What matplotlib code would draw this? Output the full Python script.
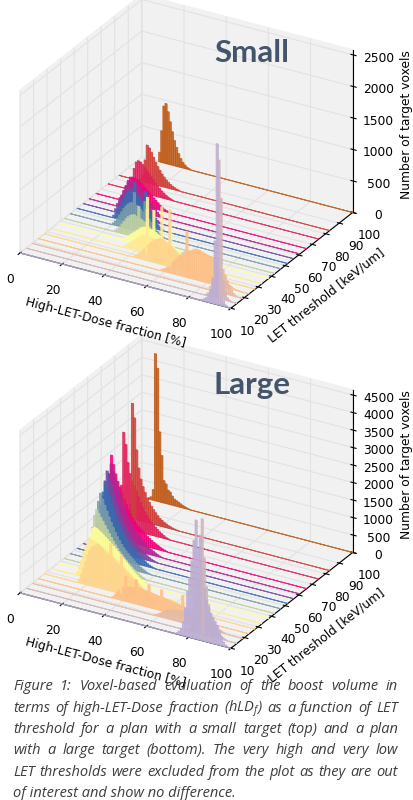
#! /usr/bin/env python3
# 3D-гистограммы hLDf для двух планов (малая и большая мишень) + подпись

import numpy as np
import matplotlib
matplotlib.use('Agg')
import matplotlib.pyplot as plt
from matplotlib.colors import LinearSegmentedColormap


# пороги LET (ось y), спереди назад
let_thr = [10, 14.5, 19, 23.5, 28, 33, 38, 42.5, 47, 52, 56.5, 61, 66, 75, 83, 100]

# small target: первый бин и значения гистограммы (бин = 1 %)
small_start = [86, 85, 84, 58, 42, 34, 30, 24, 20, 17, 15, 13, 11, 10, 10, 8]
small_counts = [
    [20, 40, 70, 120, 200, 400, 1000, 2550, 600, 200, 80, 30],
    [20, 50, 90, 150, 250, 500, 2200, 1600, 300, 120, 50, 20],
    [60, 100, 150, 200, 250, 300, 380, 300, 220, 150, 90, 40, 15],
    [20, 40, 60, 90, 130, 170, 210, 250, 290, 330, 370, 400, 730, 420, 440,
     460, 480, 490, 480, 470, 460, 450, 440, 430, 420, 410, 380, 200, 150, 120,
     100, 80, 60, 40, 25, 15, 10, 5],
    [20, 40, 70, 100, 140, 180, 220, 260, 300, 330, 360, 380, 400, 410, 400,
     380, 360, 900, 330, 300, 270, 240, 200, 160, 120, 90, 60, 30, 10],
    [20, 40, 70, 100, 130, 160, 190, 220, 250, 270, 290, 700, 280, 270, 260,
     250, 240, 230, 800, 210, 190, 170, 150, 130, 100, 70, 40, 20],
    [20, 40, 60, 90, 120, 150, 180, 210, 240, 270, 290, 300, 780, 290, 280,
     600, 260, 240, 220, 200, 180, 160, 140, 450, 110, 90, 70, 50, 30, 20,
     10],
    [30, 60, 100, 150, 200, 250, 290, 320, 340, 350, 330, 500, 310, 290, 270,
     250, 220, 190, 160, 130, 100, 70, 45, 25, 10],
    [30, 70, 120, 180, 240, 300, 350, 390, 420, 430, 600, 410, 390, 360, 330,
     500, 270, 240, 200, 160, 120, 80, 50, 25, 10],
    [40, 90, 150, 220, 290, 360, 420, 470, 490, 480, 650, 440, 410, 380, 340,
     550, 270, 230, 190, 150, 110, 75, 45, 20],
    [50, 110, 180, 260, 340, 400, 440, 460, 450, 430, 400, 370, 340, 300, 260,
     220, 180, 140, 100, 70, 40, 20],
    [40, 100, 180, 270, 350, 420, 460, 470, 460, 440, 410, 380, 340, 300, 260,
     220, 180, 140, 100, 70, 40, 20],
    [30, 80, 160, 250, 340, 400, 410, 400, 390, 370, 350, 320, 290, 260, 230,
     200, 170, 140, 110, 80, 55, 35, 20, 10],
    [40, 150, 350, 460, 490, 480, 450, 410, 370, 330, 290, 250, 210, 175, 140,
     110, 85, 60, 40, 25, 12],
    [30, 100, 350, 595, 560, 500, 430, 360, 300, 250, 200, 160, 125, 95, 70,
     50, 35, 22, 12],
    [150, 500, 900, 950, 830, 680, 530, 400, 300, 210, 140, 90, 55, 30, 15],
]
# с какого бина начинается ряд (нулевые бины рисуются линией)
small_first = [0] * 15 + [8]

# large target
large_start = [74, 76, 58, 35, 16, 12, 11, 10, 9, 8, 6, 5, 3, 4, 4, 3]
large_counts = [
    [40, 100, 200, 400, 800, 1300, 1700, 2200, 2800, 3400, 2600, 3000, 2000,
     1500, 1200, 1000, 850, 750, 650, 550, 400, 250, 120, 50],
    [30, 80, 200, 500, 1000, 1500, 2000, 3300, 2200, 1400, 900, 600, 400, 300,
     200, 150, 100, 60, 30],
    [30, 60, 100, 140, 180, 220, 250, 270, 290, 300, 310, 320, 330, 340, 350,
     360, 370, 380, 390, 400, 380, 360, 340, 320, 300, 280, 250, 220, 180, 140,
     100, 70, 40, 20],
    [50, 120, 200, 280, 350, 400, 720, 430, 450, 460, 470, 700, 480, 480, 470,
     460, 450, 650, 440, 430, 420, 410, 400, 600, 390, 380, 370, 360, 350, 340,
     330, 320, 310, 600, 290, 270, 250, 220, 180, 140, 100, 60, 30],
    [100, 250, 450, 650, 850, 1000, 1100, 1150, 1200, 1250, 1200, 1150, 1100,
     1050, 1000, 1350, 950, 900, 850, 800, 1100, 750, 700, 650, 600, 550, 500,
     450, 400, 350, 300, 250, 200, 150, 100, 60, 30],
    [100, 250, 450, 700, 900, 1050, 1100, 1120, 1100, 1080, 1050, 1020, 990,
     960, 920, 880, 840, 800, 760, 720, 680, 630, 580, 530, 480, 430, 380, 330,
     280, 230, 180, 140, 100, 70, 40, 20],
    [150, 300, 550, 850, 1100, 1250, 1300, 1280, 1240, 1200, 1150, 1100, 1050,
     1000, 950, 900, 840, 780, 720, 660, 600, 540, 480, 420, 360, 300, 250, 200,
     150, 110, 70, 40, 20],
    [150, 350, 700, 1100, 1450, 1640, 1550, 1450, 1350, 1250, 1150, 1050, 950,
     860, 770, 690, 610, 540, 470, 410, 350, 300, 250, 200, 160, 120, 80, 50,
     25],
    [150, 400, 800, 1300, 1700, 1950, 1800, 1640, 1490, 1340, 1200, 1070, 950,
     840, 740, 650, 570, 500, 440, 380, 320, 270, 220, 180, 140, 100, 70, 40,
     20],
    [150, 400, 850, 1400, 1800, 2080, 1900, 1720, 1550, 1380, 1230, 1090, 960,
     850, 750, 660, 580, 500, 430, 370, 310, 260, 210, 170, 130, 90, 60, 35,
     15],
    [150, 400, 900, 1500, 1950, 2250, 2050, 1850, 1650, 1460, 1290, 1140, 1000,
     880, 770, 670, 580, 500, 430, 370, 310, 260, 210, 170, 130, 95, 65, 40,
     20],
    [150, 400, 900, 1500, 2000, 2300, 2100, 1900, 1700, 1500, 1330, 1180, 1040,
     910, 800, 700, 610, 530, 460, 400, 340, 290, 240, 200, 160, 120, 90, 60,
     35, 15],
    [100, 300, 800, 1800, 2350, 2100, 1850, 1650, 1500, 1350, 1200, 1060, 930,
     820, 720, 630, 560, 500, 450, 400, 350, 300, 260, 220, 180, 150, 120, 90,
     60, 40, 20],
    [100, 300, 1200, 2730, 2400, 1900, 1600, 1400, 1300, 1150, 1000, 850, 720,
     620, 530, 450, 380, 320, 260, 210, 160, 120, 80, 50, 25],
    [100, 400, 3300, 2900, 2000, 1500, 1200, 1000, 850, 700, 600, 500, 420, 350,
     280, 220, 180, 140, 110, 80, 60, 40, 25, 12],
    [40, 80, 300, 4200, 3800, 2000, 1340, 640, 560, 400, 360, 260, 190, 160,
     130, 100, 70, 50, 30, 15],
]
large_first = [0] * 15 + [3]

caption = [
    'Figure 1: Voxel-based evaluation of the boost volume in',
    'terms of high-LET-Dose fraction (hLD$_f$) as a function of LET',
    'threshold for a plan with a small target (top) and a plan',
    'with a large target (bottom). The very high and very low',
    'LET thresholds were excluded from the plot as they are out',
    'of interest and show no difference.',
]

plt.rcParams['grid.color'] = '#e2e2e2'
plt.rcParams['grid.linewidth'] = 0.8
plt.rcParams['mathtext.fontset'] = 'custom'
plt.rcParams['mathtext.it'] = 'Open Sans:italic'
plt.rcParams['mathtext.rm'] = 'Open Sans:italic'

# старый Accent был интерполированным
accent = LinearSegmentedColormap.from_list('accent_old', plt.cm.Accent.colors)
colors = accent(np.linspace(1 / 7, 6 / 7, len(let_thr)))

fig = plt.figure(figsize=(4.13, 8.0), dpi=100)
W, H = fig.bbox.width, fig.bbox.height


def full_hist(start, counts):
    h = np.zeros(100)
    h[start:start + len(counts)] = counts
    return h


def panel(rect, starts, counts, first, zmax, title, title_y):
    ax = fig.add_axes(rect, projection='3d')
    ax.set_facecolor('none')
    x = np.arange(100) + 0.5
    for i in range(len(let_thr)):
        h = full_hist(starts[i], counts[i])
        f = first[i]
        ax.bar(x[f:], h[f:], zs=let_thr[i], zdir='y', width=1.0,
               color=colors[i], edgecolor=colors[i], linewidth=0.7, alpha=0.85)
    ax.set_xlim(0, 100)
    ax.set_ylim(10, 100)
    ax.set_zlim(0, zmax)
    ax.set_xticks(range(0, 101, 20))
    ax.set_yticks(range(10, 101, 10))
    ax.set_zticks(range(0, int(zmax) // 500 * 500 + 1, 500))
    ax.tick_params(labelsize=8.8, pad=2)
    ax.set_xlabel('High-LET-Dose fraction [%]', fontsize=8.8, labelpad=0)
    ax.set_ylabel('LET threshold [keV/um]', fontsize=8.8, labelpad=0)
    ax.set_zlabel('Number of target voxels', fontsize=8.8, labelpad=0)
    for a in (ax.xaxis, ax.yaxis, ax.zaxis):
        a.set_pane_color((0.945, 0.945, 0.945, 1.0))
    ax.view_init(elev=27, azim=-60)
    ax.set_proj_type('ortho')
    ax.set_box_aspect((4, 4, 3.0), zoom=1.1)
    fig.text(252 / W, 1 - title_y / H, title, fontsize=22.5, family='Lato',
             weight='bold', color='#44546a', ha='center', va='center')
    return ax


# нижнюю панель создаём первой, чтобы подписи верхней были поверх
panel([-0.06, 0.165, 1.0, 0.43], large_start, large_counts, large_first,
      4650, 'Large', 385)
panel([-0.06, 0.59, 1.0, 0.43], small_start, small_counts, small_first,
      2580, 'Small', 53)

# подпись с выравниванием по ширине
r = fig.canvas.get_renderer()
x0, x1 = 13, 398
cap_kw = dict(fontsize=10.5, family='Open Sans', style='italic',
              color='#3c3c3c', va='center')
for k, line in enumerate(caption):
    y = 1 - (687 + 21.3 * k) / H
    if k == len(caption) - 1:
        fig.text(x0 / W, y, line, **cap_kw)
        continue
    words = line.split()
    ts = [fig.text(0, y, w, **cap_kw) for w in words]
    ws = [t.get_window_extent(r).width for t in ts]
    gap = (x1 - x0 - sum(ws)) / (len(words) - 1)
    pos = x0
    for t, w in zip(ts, ws):
        t.set_x(pos / W)
        pos += w + gap

fig.savefig('out.png', dpi=100)
